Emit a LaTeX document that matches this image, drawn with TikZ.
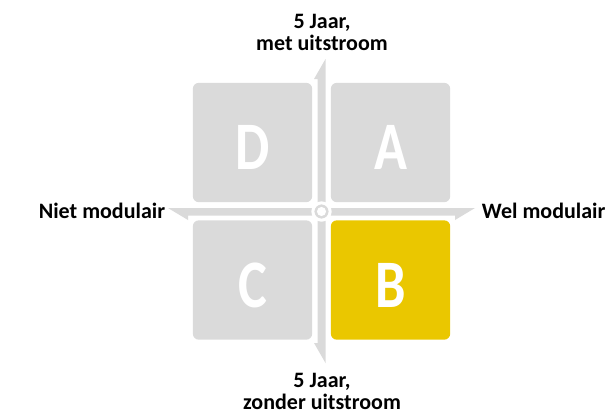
\documentclass[tikz,border=0pt]{standalone}
\usepackage{fontspec}
\setmainfont{Carlito}
\newfontfamily\letterfont[FakeStretch=0.8]{Carlito}
\usetikzlibrary{positioning}
\definecolor{quadgray}{RGB}{218,218,218}
\definecolor{quadyellow}{RGB}{234,199,0}

\begin{document}
\begin{tikzpicture}[x=0.75pt,y=-0.75pt]
  \tikzstyle{quad} = [fill=quadgray, rounded corners=4.5pt, minimum width=89.5pt, minimum height=89.5pt, inner sep=0pt, text=white, text height=41pt, text depth=0pt, font=\letterfont\bfseries\fontsize{51}{51}\selectfont]
  \tikzstyle{lbl} = [font=\bfseries\fontsize{16.5}{16.5}\selectfont, align=center, inner sep=0pt]

  \useasboundingbox (0,0) rectangle (606,415);

  \node[quad] (D) at (252.5,142.5) {D};
  \node[quad] (A) at (390.5,142.5) {A};
  \node[quad] (C) at (252.5,280) {C};
  \node[quad, fill=quadyellow] (B) at (390.5,280) {B};

  % axes with half arrow heads
  \coordinate (ntip) at (325.5,59);
  \coordinate (stip) at (325.5,363);
  \coordinate (wtip) at (168,208);
  \coordinate (etip) at (475,208);
  \coordinate (o) at (321.5,211.5);
  \fill[quadgray] (ntip) -- (314,79) -- (317.5,79) -- (317.5,343) -- (314,343) -- (stip) -- cycle;
  \fill[quadgray] (wtip) -- (188,220) -- (188,215.5) -- (455,215.5) -- (455,220) -- (etip) -- cycle;
  \filldraw[fill=quadgray, draw=white, line width=2.25pt] (o) circle[radius=6.5pt];
  \fill[white] (o) circle[radius=3.4pt];

  \node[lbl] (top) at (322,32) {5 Jaar,\\met uitstroom};
  \node[lbl] (bot) at (322,391) {5 Jaar,\\zonder uitstroom};
  \node[lbl, left=2pt of wtip, yshift=-2.5pt] (west) {Niet modulair};
  \node[lbl, right=5pt of etip, yshift=-2.5pt] (east) {Wel modulair};
\end{tikzpicture}
\end{document}
